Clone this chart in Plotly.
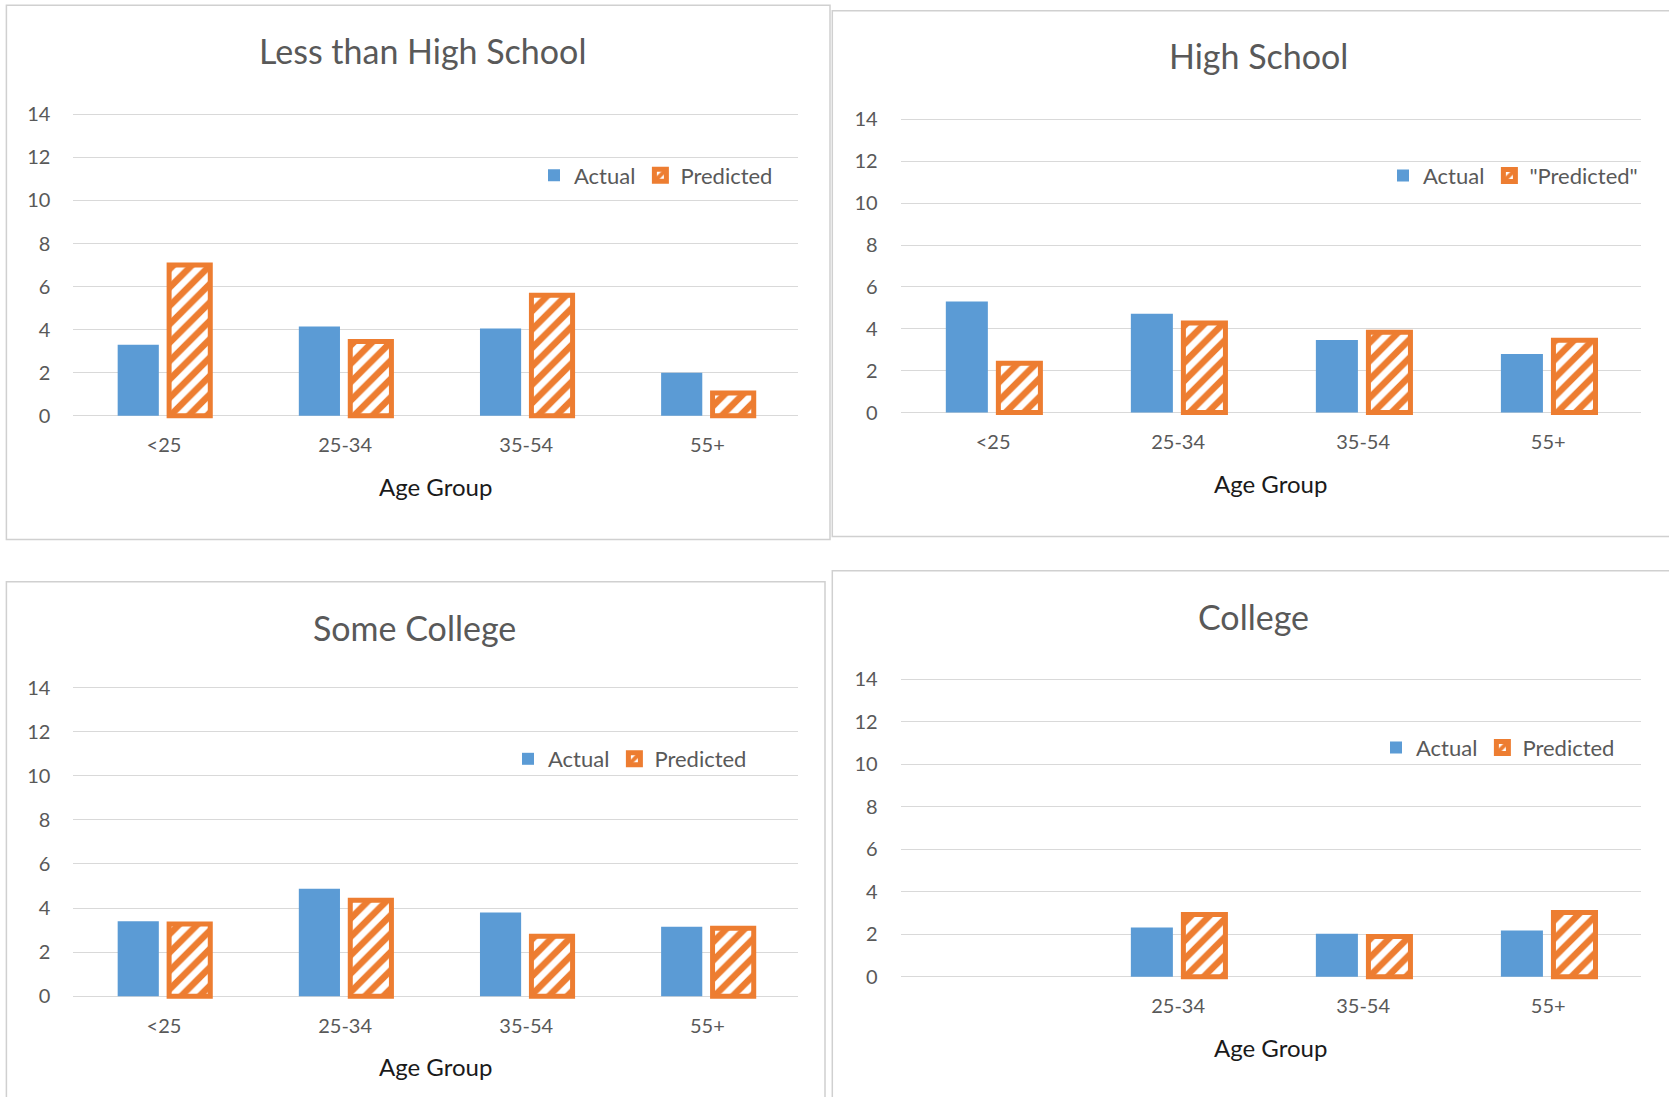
import plotly.graph_objects as go

# ---------------- data ----------------
age_groups = ["<25", "25-34", "35-54", "55+"]
panel_titles = ["Less than High School", "High School", "Some College", "College"]
predicted_names = ["Predicted", "\"Predicted\"", "Predicted", "Predicted"]

lths_actual = [3.3, 4.15, 4.05, 2.0]
lths_predicted = [7.0, 3.45, 5.6, 1.05]

hs_actual = [5.3, 4.72, 3.47, 2.8]
hs_predicted = [2.35, 4.28, 3.83, 3.45]

some_college_actual = [3.4, 4.87, 3.8, 3.15]
some_college_predicted = [3.27, 4.35, 2.72, 3.08]

college_actual = [None, 2.32, 2.03, 2.18]
college_predicted = [None, 2.93, 1.9, 3.03]
college_tick_labels = ["", "25-34", "35-54", "55+"]

y_ticks = [0, 2, 4, 6, 8, 10, 12, 14]
x_title = "Age Group"

# ---------------- style ----------------
W, H = 1669, 1097
BLUE = "#5B9BD5"
ORANGE = "#ED7D31"
GRID = "#D9D9D9"
TXT = "#595959"
FONT = "Lato"

# pixel geometry per panel: plot x0,x1 ; y of value 0 and value 14
panels = [
    dict(x0=73.4, x1=798.0, y0=415.7, y14=114.4,
         title=(422, 50.4), xt=(435.5, 486.6), leg=(778, 175.5),
         box=(6.4, 5.2, 830.0, 539.5)),
    dict(x0=900.6, x1=1640.7, y0=412.6, y14=119.3,
         title=(1258, 55.6), xt=(1270.6, 483.5), leg=(1643, 175.7),
         box=(832.3, 10.7, 1680, 536.5)),
    dict(x0=73.4, x1=798.0, y0=996.2, y14=687.6,
         title=(414, 627), xt=(435.5, 1066.8), leg=(752, 759),
         box=(6.4, 581.7, 825.0, 1110)),
    dict(x0=900.6, x1=1640.7, y0=976.8, y14=679.5,
         title=(1253.6, 616.5), xt=(1270.6, 1047), leg=(1620, 747.7),
         box=(832.3, 570.7, 1680, 1110)),
]

actuals = [lths_actual, hs_actual, some_college_actual, college_actual]
preds = [lths_predicted, hs_predicted, some_college_predicted, college_predicted]
tick_labels = [age_groups, age_groups, age_groups, college_tick_labels]

EXT = 0.3  # extra value range below 0 / above 14 so borders are not clipped

fig = go.Figure()
annotations = []
shapes = []
layout_axes = {}

for i, p in enumerate(panels):
    n = "" if i == 0 else str(i + 1)
    xa, ya = "x" + n, "y" + n
    leg = "legend" + n

    fig.add_trace(go.Bar(
        x=age_groups, y=actuals[i], name="Actual",
        marker=dict(color=BLUE, line=dict(width=0)),
        xaxis=xa, yaxis=ya, legend=leg, showlegend=True,
    ))
    fig.add_trace(go.Bar(
        x=age_groups, y=preds[i], name=predicted_names[i],
        marker=dict(color="white", line=dict(color=ORANGE, width=5),
                    pattern=dict(shape="/", fgcolor=ORANGE, bgcolor="white",
                                 fgopacity=1, size=13, solidity=0.5)),
        xaxis=xa, yaxis=ya, legend=leg, showlegend=True,
    ))

    unit = (p["y0"] - p["y14"]) / 14.0
    ybot = p["y0"] + EXT * unit
    ytop = p["y14"] - EXT * unit

    layout_axes["xaxis" + n] = dict(
        domain=[p["x0"] / W, p["x1"] / W],
        anchor=ya, type="category",
        categoryorder="array", categoryarray=age_groups,
        range=[-0.5, 3.5], automargin=False,
        tickmode="array", tickvals=age_groups, ticktext=tick_labels[i],
        showgrid=False, zeroline=False, showline=False, ticks="",
        ticklabelstandoff=9,
        tickfont=dict(family=FONT, size=20, color=TXT),
        fixedrange=True,
    )
    layout_axes["yaxis" + n] = dict(
        domain=[1 - ybot / H, 1 - ytop / H],
        anchor=xa, range=[-EXT, 14 + EXT], automargin=False,
        tickmode="array", tickvals=y_ticks,
        showgrid=True, gridcolor=GRID, gridwidth=1,
        zeroline=True, zerolinecolor=GRID, zerolinewidth=1.3,
        showline=False, ticks="",
        ticklabelstandoff=22,
        tickfont=dict(family=FONT, size=20, color=TXT),
        fixedrange=True,
    )
    layout_axes[leg] = dict(
        orientation="h", xref="paper", yref="paper",
        x=p["leg"][0] / W, xanchor="right",
        y=1 - p["leg"][1] / H, yanchor="middle",
        font=dict(family=FONT, size=22, color=TXT),
        bgcolor="rgba(0,0,0,0)", itemwidth=30, traceorder="normal",
        tracegroupgap=0,
    )

    annotations.append(dict(
        text=panel_titles[i], xref="paper", yref="paper",
        x=p["title"][0] / W, y=1 - p["title"][1] / H,
        xanchor="center", yanchor="middle", showarrow=False,
        font=dict(family=FONT, size=34, color=TXT),
    ))
    annotations.append(dict(
        text=x_title, xref="paper", yref="paper",
        x=p["xt"][0] / W, y=1 - p["xt"][1] / H,
        xanchor="center", yanchor="middle", showarrow=False,
        font=dict(family=FONT, size=24, color="#1a1a1a"),
    ))
    bx0, by0, bx1, by1 = p["box"]
    shapes.append(dict(
        type="rect", xref="paper", yref="paper",
        x0=bx0 / W, x1=bx1 / W, y0=1 - by1 / H, y1=1 - by0 / H,
        line=dict(color="#D0D0D0", width=1.5), fillcolor="rgba(0,0,0,0)",
        layer="below",
    ))

fig.update_layout(
    width=W, height=H,
    margin=dict(l=0, r=0, t=0, b=0, pad=0, autoexpand=False),
    paper_bgcolor="white", plot_bgcolor="white",
    barmode="group", bargap=0.432, bargroupgap=0.2,
    annotations=annotations, shapes=shapes,
    font=dict(family=FONT, color=TXT),
    **layout_axes,
)

fig.write_html(
    "out.html",
    config={"displayModeBar": False, "staticPlot": True},
    post_script=(
        "document.documentElement.style.margin='0';"
        "document.body.style.margin='0';document.body.style.overflow='hidden';"
        "var d=document.getElementById('{plot_id}');"
        "d.style.position='absolute';d.style.left='0px';d.style.top='0px';"
    ),
)
